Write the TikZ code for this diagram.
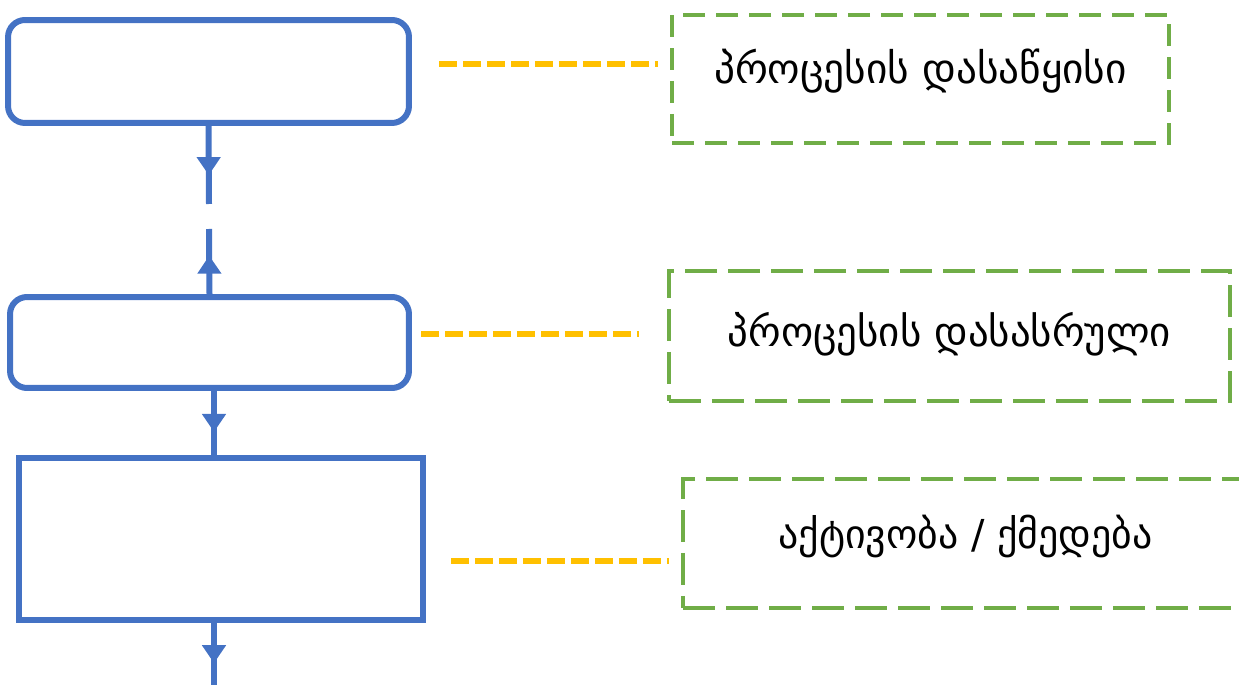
\documentclass[tikz,border=0pt]{standalone}
\usepackage{fontspec}
\newfontfamily\geofont{DejaVu Sans}
\usetikzlibrary{arrows.meta,decorations.markings}
\definecolor{stepblue}{HTML}{4472C4}
\definecolor{notegreen}{HTML}{70AD47}
\definecolor{linkgold}{HTML}{FFC000}
\begin{document}
\begin{tikzpicture}[x=0.02cm,y=-0.02cm,
  stepbox/.style={draw=stepblue,line width=0.12cm,inner sep=0pt},
  notebox/.style={draw=notegreen,line width=0.08cm,inner sep=0pt},
  notetext/.style={font=\geofont\fontsize{#1}{#1}\selectfont,inner sep=0pt},
  flowline/.style={draw=stepblue,line width=0.12cm},
  linkline/.style={draw=linkgold,line width=0.12cm,dash pattern=on 0.36cm off 0.12cm},
  midarrow/.style={postaction={decorate},decoration={markings,
    mark=at position #1 with {\arrow[stepblue]{Triangle[width=0.46cm,length=0.36cm]}}}}]

\useasboundingbox (0,0) rectangle (1239,685);

% flow steps on the left
\node[stepbox,rounded corners=0.34cm,minimum width=8.02cm,minimum height=2.06cm] (start) at (208.5,71.5) {};
\node[stepbox,rounded corners=0.34cm,minimum width=7.98cm,minimum height=1.82cm] (finish) at (209.5,342.5) {};
\node[stepbox,minimum width=8.08cm,minimum height=3.24cm] (act) at (221,539) {};

% notes on the right
\node[notebox,minimum width=9.94cm,minimum height=2.56cm,dash pattern=on 0.44cm off 0.22cm,
  label={[notetext=23.5,yshift=0.16cm]center:პროცესის დასაწყისი}] (noteA) at (920.5,79) {};
\node[notebox,minimum width=11.22cm,minimum height=2.6cm,dash pattern=on 0.64cm off 0.22cm,
  label={[notetext=23.3,yshift=0.04cm]center:პროცესის დასასრული}] (noteB) at (949.5,336) {};
\node[notebox,minimum width=11.3cm,minimum height=2.58cm,dash pattern=on 0.64cm off 0.22cm,
  label={[notetext=22.7,yshift=0.14cm]center:აქტივობა / ქმედება}] (noteC) at (965.5,543.5) {};

% connectors
\coordinate (gap1) at (209,204);
\coordinate (gap2) at (209,229);
\coordinate (lane) at (214,0);
\coordinate (exit) at (214,690);
\draw[flowline,midarrow=0.63] (start.south) -- (gap1);
\draw[flowline,midarrow=0.59] (finish.north) -- (gap2);
\draw[flowline,midarrow=0.64] (finish.south -| lane) -- (act.north -| lane);
\draw[flowline,midarrow=0.6] (act.south -| lane) -- (exit);

% links to the notes
\coordinate (l1) at (439,64);
\coordinate (l2) at (421,334);
\coordinate (l3) at (451,561);
\draw[linkline,shorten >=0.24cm] (l1) -- (l1 -| noteA.west);
\draw[linkline,shorten >=0.56cm] (l2) -- (l2 -| noteB.west);
\draw[linkline,shorten >=0.24cm] (l3) -- (l3 -| noteC.west);

\end{tikzpicture}
\end{document}
